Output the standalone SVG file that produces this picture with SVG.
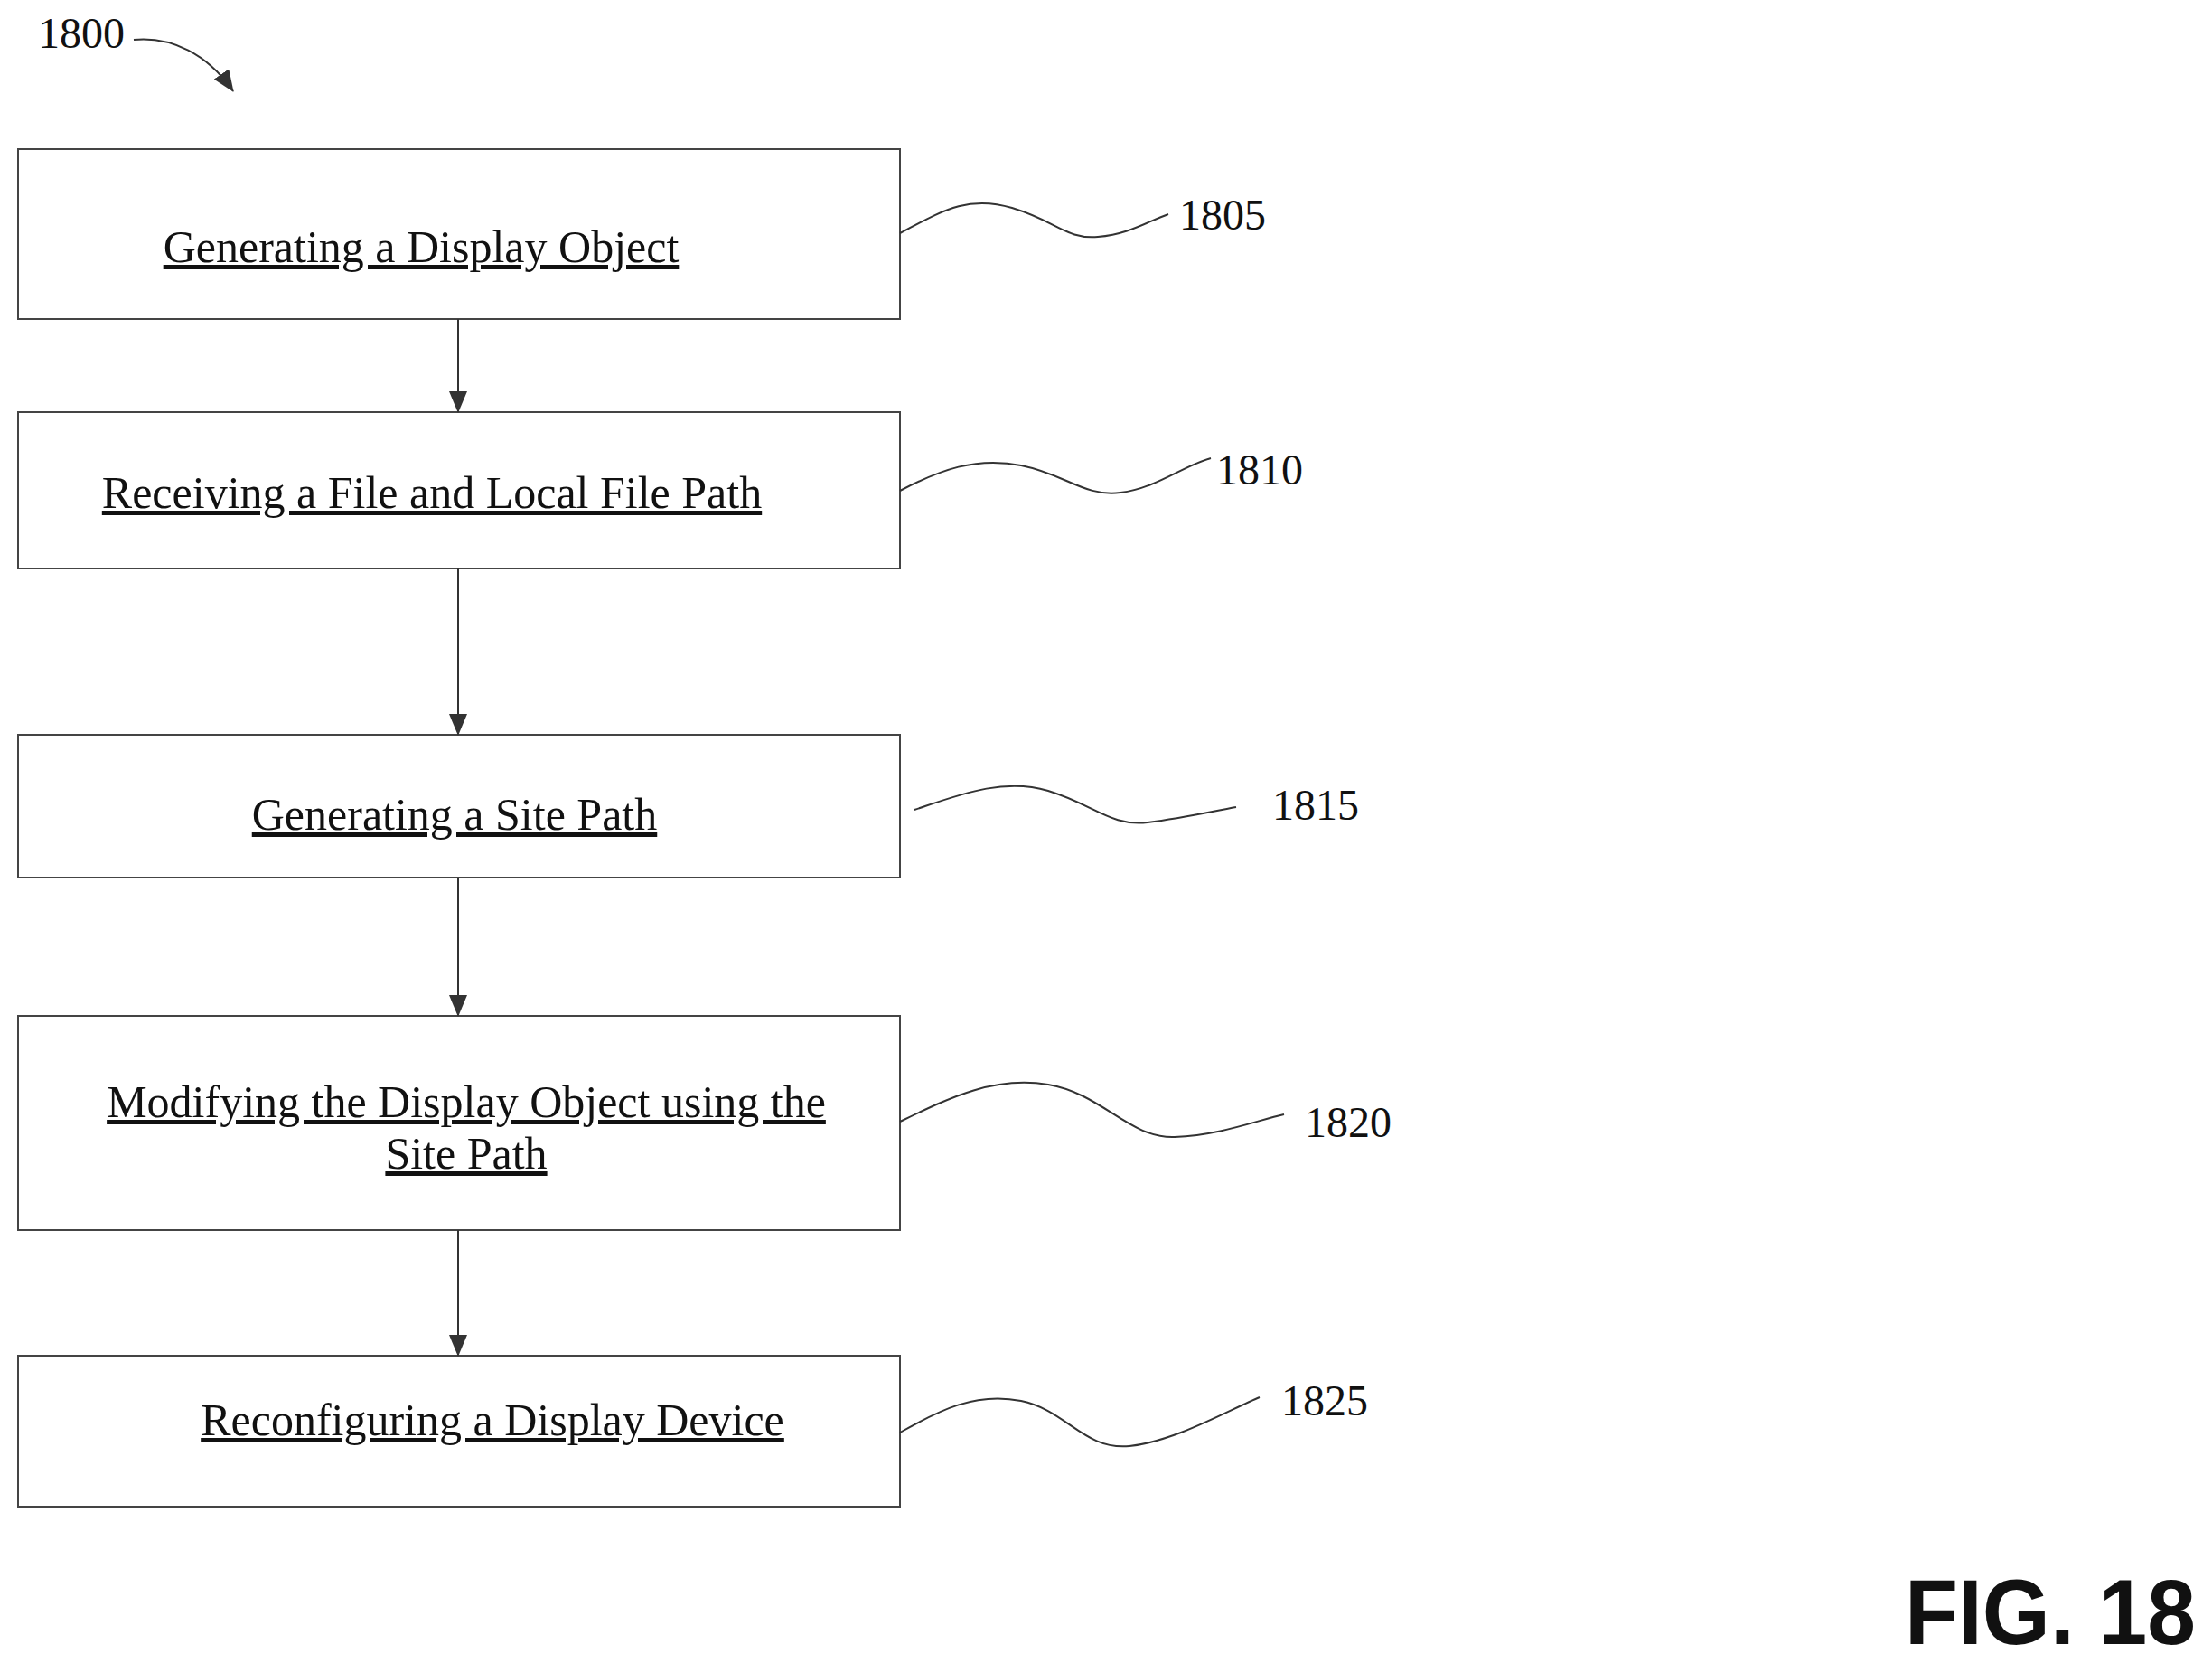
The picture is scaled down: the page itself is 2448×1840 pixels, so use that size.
<svg xmlns="http://www.w3.org/2000/svg" width="2448" height="1840" viewBox="0 0 2448 1840">
<style>
.box{fill:#fff;stroke:#444;stroke-width:2}
.t{font-family:"Liberation Serif",serif;font-size:50px;fill:#111;text-anchor:middle;text-decoration:underline}
.n{font-family:"Liberation Serif",serif;font-size:48px;fill:#111}
.w{fill:none;stroke:#333;stroke-width:2}
.c{stroke:#333;stroke-width:2;fill:none}
</style>
<defs>
<marker id="b" viewBox="0 0 24 20" markerWidth="24" markerHeight="20" refX="23" refY="10" orient="auto" markerUnits="userSpaceOnUse"><path d="M0,0 L24,10 L0,20 z" fill="#333"/></marker></defs>
<g id="n1805"><rect class="box" x="20" y="165" width="976" height="188"/><text class="t" x="466" y="290">Generating a Display Object</text></g>
<g id="n1810"><rect class="box" x="20" y="456" width="976" height="173"/><text class="t" x="478" y="562">Receiving a File and Local File Path</text></g>
<g id="n1815"><rect class="box" x="20" y="813" width="976" height="158"/><text class="t" x="503" y="918">Generating a Site Path</text></g>
<g id="n1820"><rect class="box" x="20" y="1124" width="976" height="237"/><text class="t" x="516" y="1236">Modifying the Display Object using the</text><text class="t" x="516" y="1293">Site Path</text></g>
<g id="n1825"><rect class="box" x="20" y="1500" width="976" height="167"/><text class="t" x="545" y="1588">Reconfiguring a Display Device</text></g>
<g id="connectors">
<line class="c" x1="507" y1="353" x2="507" y2="456" marker-end="url(#b)"/>
<line class="c" x1="507" y1="629" x2="507" y2="813" marker-end="url(#b)"/>
<line class="c" x1="507" y1="971" x2="507" y2="1124" marker-end="url(#b)"/>
<line class="c" x1="507" y1="1361" x2="507" y2="1500" marker-end="url(#b)"/>
<path class="w" d="M996,258 C1040,235 1070,215 1120,230 S1180,265 1215,262 S1270,245 1293,237"/>
<path class="w" d="M996,543 C1040,520 1080,505 1130,515 S1200,550 1240,545 S1310,515 1340,507"/>
<path class="w" d="M1012,896 C1060,880 1110,860 1160,875 S1230,915 1270,910 S1340,898 1368,893"/>
<path class="w" d="M996,1241 C1050,1215 1100,1190 1160,1200 S1250,1260 1300,1258 S1390,1240 1421,1233"/>
<path class="w" d="M996,1585 C1040,1560 1080,1540 1130,1550 S1200,1605 1250,1600 S1360,1560 1394,1546"/>
<path class="w" d="M148,44 C190,40 230,60 258,101" marker-end="url(#b)"/>
</g>
<text class="n" x="1305" y="254">1805</text>
<text class="n" x="1346" y="536">1810</text>
<text class="n" x="1408" y="907">1815</text>
<text class="n" x="1444" y="1258">1820</text>
<text class="n" x="1418" y="1566">1825</text>
<text class="n" x="42" y="53">1800</text>
<text x="2108" y="1819" font-family="Liberation Sans,sans-serif" font-weight="bold" font-size="102" fill="#111" textLength="322" lengthAdjust="spacingAndGlyphs">FIG. 18</text>
</svg>
